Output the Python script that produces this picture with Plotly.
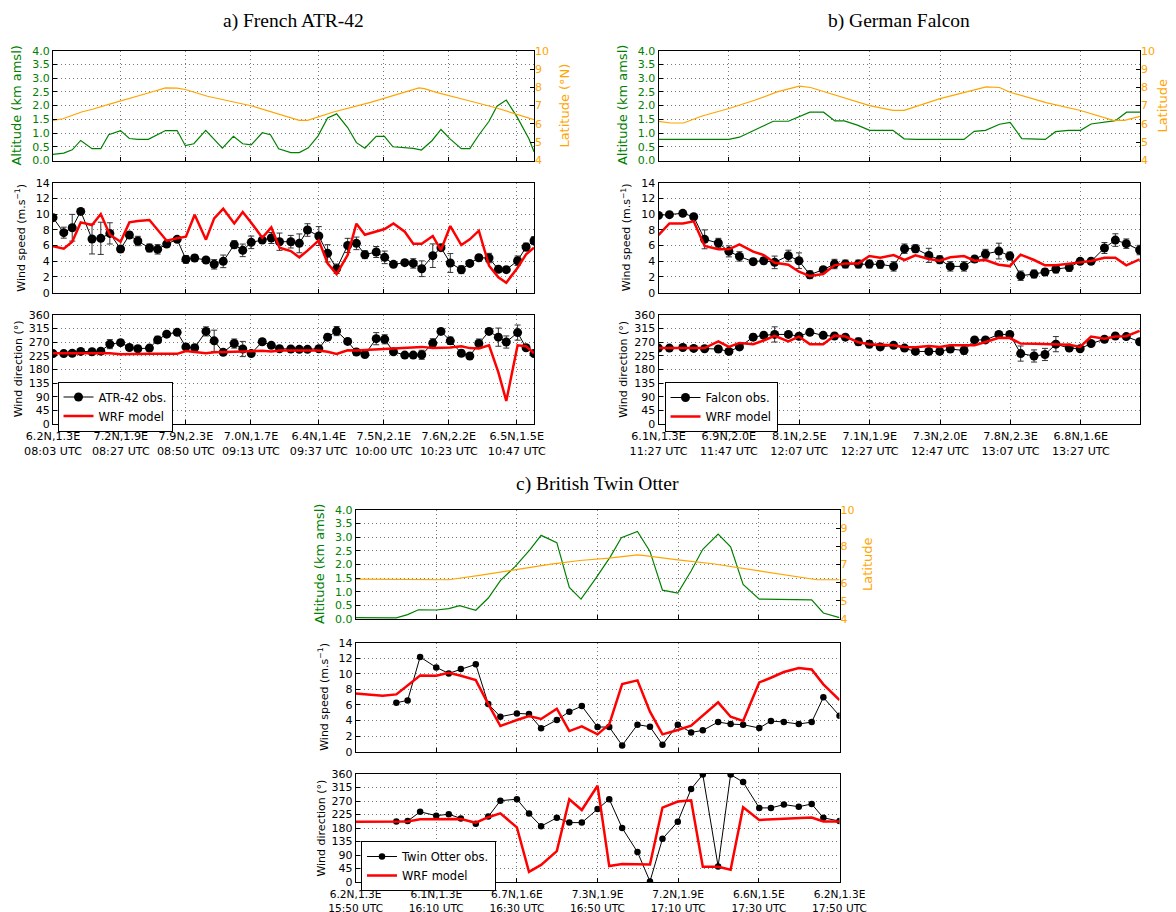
import plotly.graph_objects as go

# ---------------- DATA ----------------
# Panel a) French ATR-42  (time in minutes after 08:03 UTC)
a_obs_t = [0, 3.8, 6.8, 9.8, 13.8, 16.9, 20.1, 23.9, 27.0, 30.0, 34.1, 37.0, 40.2, 43.9, 47.0, 50.1, 54.1, 57.0,
           60.2, 64.1, 67.1, 70.1, 74.0, 77.2, 80.1, 84.1, 87.1, 90.0, 94.0, 97.1, 100.3, 104.2, 107.3, 110.3,
           114.3, 117.3, 120.4, 124.4, 127.4, 130.4, 134.3, 137.2, 140.5, 144.4, 147.4, 150.6, 154.2, 157.5,
           160.3, 164.3, 167.3, 170.1]
a_spd_obs = [9.55, 7.64, 8.27, 10.35, 6.83, 6.92, 7.55, 5.56, 7.34, 6.58, 5.69, 5.52, 6.19, 6.79, 4.24, 4.41, 4.16,
             3.61, 3.99, 6.11, 5.39, 6.41, 6.70, 6.96, 6.49, 6.49, 6.28, 7.98, 7.21, 5.01, 3.05, 6.02, 6.28, 4.84,
             5.18, 4.50, 3.61, 3.82, 3.73, 3.05, 4.71, 5.73, 3.78, 2.93, 3.73, 4.45, 4.41, 2.97, 2.93, 4.07, 5.81, 6.62]
a_spd_err = [0.3, 0.7, 1.7, 0.2, 1.9, 2.05, 1.35, 0.3, 0.4, 0.6, 0.5, 0.6, 0.3, 0.3, 0.5, 0.4, 0.3, 0.6, 0.8, 0.5,
             0.8, 0.8, 0.3, 0.7, 1.1, 0.8, 1.2, 0.8, 1.2, 1.1, 0.6, 0.9, 0.8, 0.5, 0.7, 0.8, 0.3, 0.3, 0.6, 1.0,
             1.5, 0.2, 1.2, 0.5, 0.3, 0.4, 0.6, 0.4, 0.3, 0.6, 0.5, 0.5]
a_spd_mod = [5.90, 5.60, 6.49, 8.95, 8.61, 10.01, 7.38, 6.49, 8.95, 9.12, 9.25, 7.98, 6.62, 6.92, 7.13, 9.93, 6.75,
             9.46, 10.69, 8.82, 10.27, 8.91, 7.00, 8.32, 5.73, 5.30, 4.50, 5.35, 6.66, 3.73, 2.38, 4.79, 8.78, 7.38,
             7.76, 8.10, 8.82, 7.76, 6.24, 6.24, 7.21, 5.43, 8.48, 6.07, 6.79, 7.89, 3.44, 1.95, 1.27, 3.18, 4.88, 5.73]
a_dir_obs = [232, 232, 233, 239, 238, 240, 263, 268, 252, 248, 250, 277, 296, 302, 254, 251, 305, 274, 236, 265,
             247, 232, 271, 259, 248, 247, 246, 246, 248, 286, 306, 272, 237, 229, 281, 279, 238, 227, 227, 228,
             266, 305, 274, 233, 224, 265, 305, 286, 270, 301, 251, 232]
a_dir_err = [5, 5, 5, 5, 5, 5, 15, 8, 8, 8, 8, 12, 8, 8, 10, 8, 15, 35, 8, 15, 25, 8, 8, 8, 5, 5, 5, 5, 5, 10,
             15, 8, 8, 8, 20, 15, 5, 5, 5, 15, 15, 8, 12, 10, 8, 15, 8, 30, 20, 25, 8, 5]
a_dir_mod = [233, 233, 233, 233, 233, 233, 233, 230, 231, 231, 231, 231, 231, 231, 240, 237, 233, 236, 238, 238,
             239, 240, 241, 239, 242, 242, 242, 242, 242, 238, 231, 243, 242, 244, 246, 247, 248, 250, 252, 254,
             250, 251, 252, 256, 250, 249, 259, 170, 76, 259, 256, 233]
a_alt_t = [0, 3.8, 6.8, 9.8, 13.8, 16.9, 19.7, 23.9, 27.0, 30.0, 33.7, 39.8, 43.9, 46.8, 49.8, 54.0, 59.9, 63.8,
           67.1, 70.1, 74.0, 76.9, 79.8, 84.1, 87.1, 90.3, 93.7, 97.1, 100.3, 104.2, 107.3, 110.3, 114.3, 117.2,
           120.2, 127.4, 130.3, 134.0, 137.2, 140.5, 144.4, 147.4, 150.6, 154.2, 157.0, 160.3, 164.1, 168.3, 170.1]
a_alt = [0.22, 0.27, 0.39, 0.73, 0.43, 0.43, 0.94, 1.09, 0.80, 0.77, 0.77, 1.09, 1.09, 0.54, 0.61, 1.10, 0.45, 0.88,
         0.61, 0.57, 1.01, 0.94, 0.43, 0.29, 0.29, 0.46, 0.89, 1.55, 1.70, 1.20, 0.65, 0.45, 0.88, 0.88, 0.50, 0.44,
         0.38, 0.72, 1.13, 0.78, 0.43, 0.43, 0.93, 1.43, 1.98, 2.20, 1.59, 0.79, 0.32]
a_lat_t = [0, 3.5, 10.1, 14.0, 20.6, 25.8, 33.7, 39.8, 43.9, 46.8, 54.6, 70.4, 80.9, 87.1, 90.0, 99.2, 112.3,
           122.8, 129.4, 131.3, 135.9, 146.4, 156.9, 170.1]
a_lat = [6.19, 6.28, 6.65, 6.80, 7.11, 7.33, 7.69, 7.97, 7.95, 7.88, 7.51, 6.98, 6.47, 6.19, 6.19, 6.65, 7.18,
         7.66, 7.97, 7.93, 7.71, 7.29, 6.87, 6.23]
a_tick_t = [0, 24, 47, 70, 94, 117, 140, 164]
a_tick_pos = ["6.2N,1.3E", "7.2N,1.9E", "7.9N,2.3E", "7.0N,1.7E", "6.4N,1.4E", "7.5N,2.1E", "7.6N,2.2E", "6.5N,1.5E"]
a_tick_utc = ["08:03", "08:27", "08:50", "09:13", "09:37", "10:00", "10:23", "10:47"]

# Panel b) German Falcon  (minutes after 11:27 UTC)
b_obs_t = [0, 3.1, 6.9, 10.0, 13.1, 17.0, 20.0, 23.0, 26.9, 29.9, 33.0, 36.9, 39.9, 43.0, 46.8, 50.0, 53.1, 56.8,
           59.9, 63.0, 66.8, 69.9, 73.0, 76.8, 79.9, 82.9, 86.8, 89.8, 92.9, 96.7, 99.8, 102.9, 106.7, 109.8,
           112.9, 116.7, 119.8, 122.9, 126.7, 129.8, 132.9, 136.7]
b_spd_obs = [9.84, 9.93, 10.10, 9.67, 6.79, 6.32, 5.26, 4.62, 3.95, 4.07, 3.86, 4.71, 4.07, 2.29, 2.93, 3.65, 3.65,
             3.65, 3.65, 3.61, 3.35, 5.60, 5.60, 4.75, 4.20, 3.35, 3.35, 4.28, 4.92, 5.30, 4.67, 2.16, 2.38, 2.63,
             3.01, 3.22, 3.99, 3.99, 5.69, 6.70, 6.24, 5.43]
b_spd_err = [0.2, 0.2, 0.2, 0.2, 1.2, 0.6, 0.7, 0.6, 0.4, 0.4, 0.8, 0.7, 1.0, 0.5, 0.3, 0.6, 0.5, 0.5, 0.5, 0.5,
             0.6, 0.6, 0.5, 0.9, 0.5, 0.6, 0.6, 0.4, 0.6, 1.0, 0.5, 0.6, 0.5, 0.4, 0.5, 0.5, 0.3, 0.4, 0.7, 0.8,
             0.6, 0.6]
b_spd_mod = [7.34, 8.82, 8.82, 9.08, 5.94, 5.52, 5.52, 6.15, 5.22, 4.79, 3.82, 3.56, 2.67, 2.12, 2.38, 3.48, 3.73,
             3.73, 4.67, 4.45, 4.79, 4.16, 4.75, 4.28, 4.07, 4.50, 4.67, 4.07, 4.16, 3.56, 3.39, 4.84, 4.16, 3.48,
             3.48, 3.73, 3.86, 4.03, 4.45, 4.45, 3.48, 4.24]
b_dir_obs = [250, 250, 252, 249, 248, 247, 239, 254, 286, 292, 295, 295, 289, 302, 292, 290, 286, 271, 263, 254,
             259, 250, 239, 239, 239, 247, 242, 277, 277, 295, 295, 232, 224, 229, 263, 250, 248, 265, 279, 290,
             288, 271]
b_dir_err = [5, 5, 5, 5, 5, 5, 8, 10, 10, 10, 25, 5, 5, 5, 5, 5, 5, 12, 12, 10, 5, 8, 5, 8, 8, 10, 12, 5, 5, 5,
             5, 25, 20, 20, 25, 8, 5, 5, 5, 5, 5, 8]
b_dir_mod = [250, 250, 250, 250, 250, 272, 254, 267, 263, 275, 290, 272, 288, 263, 263, 291, 288, 269, 263, 261,
             259, 254, 253, 257, 254, 259, 259, 259, 270, 284, 283, 265, 264, 263, 263, 261, 254, 288, 281, 288,
             289, 307]
b_alt_t = [0, 20.0, 23.0, 27.3, 32.6, 36.9, 40.0, 43.0, 46.9, 50.1, 52.8, 56.5, 60.0, 66.6, 69.8, 73.0, 86.8, 89.7,
           92.9, 96.9, 99.9, 103.2, 109.9, 112.8, 116.5, 119.9, 122.9, 126.4, 129.8, 133.0, 136.8]
b_alt = [0.77, 0.77, 0.85, 1.10, 1.43, 1.43, 1.61, 1.76, 1.76, 1.44, 1.44, 1.29, 1.10, 1.10, 0.79, 0.77, 0.77, 1.06,
         1.10, 1.32, 1.39, 0.80, 0.77, 1.05, 1.10, 1.10, 1.33, 1.40, 1.45, 1.76, 1.76]
b_lat_t = [0, 3.4, 7.1, 12.4, 20.0, 27.3, 33.7, 40.0, 43.2, 50.7, 60.0, 66.6, 69.8, 80.0, 93.1, 96.9, 99.9, 110.1,
           119.9, 129.2, 132.4, 136.8]
b_lat = [6.14, 6.05, 6.05, 6.43, 6.84, 7.29, 7.75, 8.06, 7.99, 7.53, 7.00, 6.74, 6.74, 7.38, 8.02, 7.99, 7.73, 7.16,
         6.73, 6.19, 6.19, 6.41]
b_tick_t = [0, 20, 40, 60, 80, 100, 120]
b_tick_pos = ["6.1N,1.3E", "6.9N,2.0E", "8.1N,2.5E", "7.1N,1.9E", "7.3N,2.0E", "7.8N,2.3E", "6.8N,1.6E"]
b_tick_utc = ["11:27", "11:47", "12:07", "12:27", "12:47", "13:07", "13:27"]

# Panel c) British Twin Otter  (minutes after 15:50 UTC)
c_obs_t = [10.1, 12.9, 16.0, 20.0, 23.1, 26.1, 29.8, 32.9, 35.9, 40.0, 43.0, 46.0, 49.9, 53.0, 56.1, 60.0, 62.9,
           66.1, 69.9, 73.0, 76.1, 79.9, 83.2, 86.1, 89.9, 93.0, 96.1, 100.1, 103.0, 106.2, 109.9, 113.1, 116.0, 120.0]
c_spd_obs = [6.29, 6.59, 12.16, 10.83, 10.06, 10.62, 11.22, 6.12, 4.49, 4.92, 4.84, 3.00, 4.07, 5.14, 5.86, 3.17,
             3.17, 0.81, 3.47, 3.21, 0.90, 3.47, 2.48, 2.74, 3.81, 3.55, 3.47, 3.04, 3.94, 3.81, 3.55, 3.81, 6.98, 4.62]
c_dir_obs = [202, 203, 234, 221, 226, 212, 194, 218, 271, 276, 228, 186, 214, 198, 198, 243, 276, 180, 100, 2,
             144, 201, 310, 358, 52, 358, 333, 247, 247, 258, 251, 260, 214, 203]
c_spd_mod_t = [0, 6.7, 10.1, 12.9, 16.0, 20.0, 23.1, 26.1, 29.8, 32.9, 35.9, 40.0, 43.0, 46.0, 49.9, 53.0, 56.1,
               60.0, 62.9, 66.1, 69.9, 73.0, 76.1, 79.9, 83.2, 89.9, 93.0, 96.1, 100.1, 103.0, 106.2, 109.9, 113.1,
               116.0, 120.0]
c_spd_mod = [7.49, 7.19, 7.36, 8.52, 9.80, 9.76, 10.15, 9.76, 9.20, 6.12, 3.30, 4.07, 4.58, 4.20, 5.52, 2.65, 3.25,
             2.23, 3.51, 8.69, 9.16, 5.14, 2.23, 2.78, 3.34, 6.34, 4.49, 3.94, 8.90, 9.50, 10.23, 10.74, 10.57, 8.65,
             6.64]
c_dir_mod_t = [0, 10.1, 12.9, 16.0, 20.0, 26.1, 29.8, 32.9, 35.9, 40.0, 43.0, 46.0, 49.9, 53.0, 56.1, 60.0, 62.9,
               66.1, 73.0, 76.1, 79.9, 83.2, 86.1, 89.9, 93.0, 96.1, 100.1, 113.1, 116.0, 120.0]
c_dir_mod = [201, 200, 202, 209, 209, 210, 198, 216, 229, 182, 34, 57, 103, 276, 240, 321, 53, 60, 58, 248, 268,
             272, 51, 51, 41, 249, 207, 215, 202, 202]
c_alt_t = [0, 10.1, 12.9, 15.6, 20.0, 23.1, 25.8, 28.0, 29.8, 32.9, 35.9, 39.6, 43.2, 46.0, 49.9, 53.0, 55.9, 59.6,
           63.2, 65.9, 69.9, 73.0, 76.1, 79.9, 83.2, 86.1, 89.9, 93.0, 96.1, 100.1, 113.1, 116.0, 120.0]
c_alt = [0.05, 0.04, 0.16, 0.34, 0.33, 0.38, 0.49, 0.41, 0.32, 0.77, 1.41, 1.93, 2.54, 3.07, 2.80, 1.16, 0.73, 1.50,
         2.29, 2.98, 3.21, 2.48, 1.06, 0.95, 1.76, 2.56, 3.12, 2.65, 1.27, 0.73, 0.70, 0.22, 0.05]
c_lat_t = [0, 20.0, 23.1, 30.7, 39.6, 48.5, 55.6, 62.8, 69.9, 71.7, 79.9, 88.6, 100.1, 110.8, 114.4, 120.0]
c_lat = [6.19, 6.14, 6.16, 6.40, 6.71, 7.02, 7.22, 7.35, 7.53, 7.49, 7.26, 7.04, 6.65, 6.30, 6.16, 6.16]
c_tick_t = [0, 20, 40, 60, 80, 100, 120]
c_tick_pos = ["6.2N,1.3E", "6.1N,1.3E", "6.7N,1.6E", "7.3N,1.9E", "7.2N,1.9E", "6.6N,1.5E", "6.2N,1.3E"]
c_tick_utc = ["15:50", "16:10", "16:30", "16:50", "17:10", "17:30", "17:50"]

titles = ["a) French ATR-42", "b) German Falcon", "c) British Twin Otter"]
obs_names = ["ATR-42 obs.", "Falcon obs.", "Twin Otter obs."]
lat_titles = ["Latitude (°N)", "Latitude", "Latitude"]

# ---------------- LAYOUT GEOMETRY (screen pixels) ----------------
OFF = 8                      # page body margin
FW, FH = 1168, 904           # figure size so that it fits the 1176x912 window
def fx(p):
    return (p - OFF) / FW
def fy(p):
    return 1 - (p - OFF) / FH

GREEN = "#008000"
ORANGE = "#FFA500"
FONT = "DejaVu Sans"

panels = [
    dict(x0=53, x1=534, rows=[(50.7, 160.5), (182.7, 292.7), (314.7, 424.0)], xmax=170.1,
         title_xy=(293.5, 21), legend_xy=(57.5, 381.5), lat_off=31, xfont=11.2, xstand=2),
    dict(x0=658.5, x1=1140, rows=[(50.7, 160.5), (182.7, 292.7), (314.7, 424.0)], xmax=136.8,
         title_xy=(899, 21), legend_xy=(664.5, 382), lat_off=23, xfont=11.2, xstand=2),
    dict(x0=355.6, x1=839.5, rows=[(510, 619), (642.7, 751.7), (774, 882)], xmax=120.0,
         title_xy=(597, 484), legend_xy=(361, 841), lat_off=28, xfont=10.6, xstand=2),
]

data = [
    dict(obs_t=a_obs_t, spd=a_spd_obs, spd_err=a_spd_err, spd_mod_t=a_obs_t, spd_mod=a_spd_mod,
         dir=a_dir_obs, dir_err=a_dir_err, dir_mod_t=a_obs_t, dir_mod=a_dir_mod,
         alt_t=a_alt_t, alt=a_alt, lat_t=a_lat_t, lat=a_lat,
         tick_t=a_tick_t, tick_pos=a_tick_pos, tick_utc=a_tick_utc, msize=9),
    dict(obs_t=b_obs_t, spd=b_spd_obs, spd_err=b_spd_err, spd_mod_t=b_obs_t, spd_mod=b_spd_mod,
         dir=b_dir_obs, dir_err=b_dir_err, dir_mod_t=b_obs_t, dir_mod=b_dir_mod,
         alt_t=b_alt_t, alt=b_alt, lat_t=b_lat_t, lat=b_lat,
         tick_t=b_tick_t, tick_pos=b_tick_pos, tick_utc=b_tick_utc, msize=9),
    dict(obs_t=c_obs_t, spd=c_spd_obs, spd_err=None, spd_mod_t=c_spd_mod_t, spd_mod=c_spd_mod,
         dir=c_dir_obs, dir_err=None, dir_mod_t=c_dir_mod_t, dir_mod=c_dir_mod,
         alt_t=c_alt_t, alt=c_alt, lat_t=c_lat_t, lat=c_lat,
         tick_t=c_tick_t, tick_pos=c_tick_pos, tick_utc=c_tick_utc, msize=6.5),
]

fig = go.Figure()
layout = {}
annotations = []

def axname(kind, n):
    return kind + ("" if n == 1 else str(n))

def ref(kind, n):
    return kind + ("" if n == 1 else str(n))

common_axis = dict(showline=True, linecolor="black", linewidth=1, mirror=True,
                   ticks="inside", ticklen=4, tickcolor="black", zeroline=False,
                   automargin=False, tickfont=dict(family=FONT, size=11, color="black"))
grid = dict(showgrid=True, gridcolor="#7a7a7a", griddash="1px,3px", gridwidth=1)

for k, (P, D) in enumerate(zip(panels, data)):
    legend_name = "legend" if k == 0 else "legend%d" % (k + 1)
    for r in range(3):
        n = 3 * k + r + 1
        top, bot = P["rows"][r]
        xa = dict(common_axis, **grid)
        xa.update(domain=[fx(P["x0"]), fx(P["x1"])], anchor=ref("y", n), range=[0, P["xmax"]],
                  tickvals=D["tick_t"])
        if r == 2:
            xa["ticktext"] = [p + "<br>" + u + " UTC" for p, u in zip(D["tick_pos"], D["tick_utc"])]
            xa["tickfont"] = dict(family=FONT, size=P["xfont"], color="black")
            xa["ticklabelstandoff"] = P["xstand"]
        else:
            xa["showticklabels"] = False
        layout[axname("xaxis", n)] = xa

        ya = dict(common_axis, **grid)
        ya.update(domain=[fy(bot), fy(top)], anchor=ref("x", n))
        if r == 0:
            ya.update(range=[0, 4], tickvals=[i * 0.5 for i in range(9)], tickformat=".1f",
                      tickfont=dict(family=FONT, size=11, color=GREEN))
        elif r == 1:
            ya.update(range=[0, 14], tickvals=list(range(0, 15, 2)))
        else:
            ya.update(range=[0, 360], tickvals=list(range(0, 361, 45)))
        layout[axname("yaxis", n)] = ya

        xr, yr = ref("x", n), ref("y", n)
        ymid = (top + bot) / 2
        if r == 0:
            fig.add_trace(go.Scatter(x=D["alt_t"], y=D["alt"], mode="lines", xaxis=xr, yaxis=yr,
                                     line=dict(color=GREEN, width=1.2), showlegend=False))
            ln = 10 + k
            layout[axname("yaxis", ln)] = dict(
                overlaying=yr, side="right", anchor=xr, range=[4, 10], tickvals=list(range(4, 11)),
                showgrid=False, zeroline=False, showline=False, ticks="inside", ticklen=4,
                tickcolor="black", automargin=False, tickfont=dict(family=FONT, size=11, color=ORANGE))
            fig.add_trace(go.Scatter(x=D["lat_t"], y=D["lat"], mode="lines", xaxis=xr, yaxis=ref("y", ln),
                                     line=dict(color=ORANGE, width=1.2), showlegend=False))
            annotations.append(dict(x=fx(P["x0"] - 36), y=fy(ymid), xref="paper", yref="paper",
                                    text="Altitude (km amsl)", textangle=-90, showarrow=False,
                                    font=dict(family=FONT, size=13, color=GREEN),
                                    xanchor="center", yanchor="middle"))
            annotations.append(dict(x=fx(P["x1"] + P["lat_off"]), y=fy(ymid), xref="paper", yref="paper",
                                    text=lat_titles[k], textangle=-90, showarrow=False,
                                    font=dict(family=FONT, size=13, color=ORANGE),
                                    xanchor="center", yanchor="middle"))
        else:
            if r == 1:
                yv, ev, mt, mv = D["spd"], D["spd_err"], D["spd_mod_t"], D["spd_mod"]
                label = "Wind speed (m.s<sup>−1</sup>)"
                loff = 32
            else:
                yv, ev, mt, mv = D["dir"], D["dir_err"], D["dir_mod_t"], D["dir_mod"]
                label = "Wind direction (°)"
                loff = 35
            err = None
            if ev is not None:
                err = dict(type="data", array=ev, visible=True, color="#333333", thickness=1, width=3)
            fig.add_trace(go.Scatter(x=D["obs_t"], y=yv, mode="lines+markers", xaxis=xr, yaxis=yr,
                                     line=dict(color="black", width=1),
                                     marker=dict(color="black", size=D["msize"]),
                                     error_y=err, name=obs_names[k], legend=legend_name,
                                     showlegend=(r == 2)))
            fig.add_trace(go.Scatter(x=mt, y=mv, mode="lines", xaxis=xr, yaxis=yr,
                                     line=dict(color="red", width=2.5), name="WRF model",
                                     legend=legend_name, showlegend=(r == 2)))
            annotations.append(dict(x=fx(P["x0"] - loff), y=fy(ymid), xref="paper", yref="paper",
                                    text=label, textangle=-90, showarrow=False,
                                    font=dict(family=FONT, size=11, color="black"),
                                    xanchor="center", yanchor="middle"))

    layout[legend_name] = dict(x=fx(P["legend_xy"][0]), y=fy(P["legend_xy"][1]), xanchor="left", yanchor="top",
                               xref="paper", yref="paper", bgcolor="white", bordercolor="black", borderwidth=1,
                               font=dict(family=FONT, size=11.5, color="black"), tracegroupgap=0,
                               itemwidth=30)
    annotations.append(dict(x=fx(P["title_xy"][0]), y=fy(P["title_xy"][1]), xref="paper", yref="paper",
                            text=titles[k], showarrow=False, xanchor="center", yanchor="middle",
                            font=dict(family="Liberation Serif", size=19.5, color="black")))

fig.update_layout(**layout)
fig.update_layout(width=FW, height=FH, margin=dict(l=0, r=0, t=0, b=0), paper_bgcolor="white",
                  plot_bgcolor="white", annotations=annotations, template="none")

fig.write_html("out.html")
